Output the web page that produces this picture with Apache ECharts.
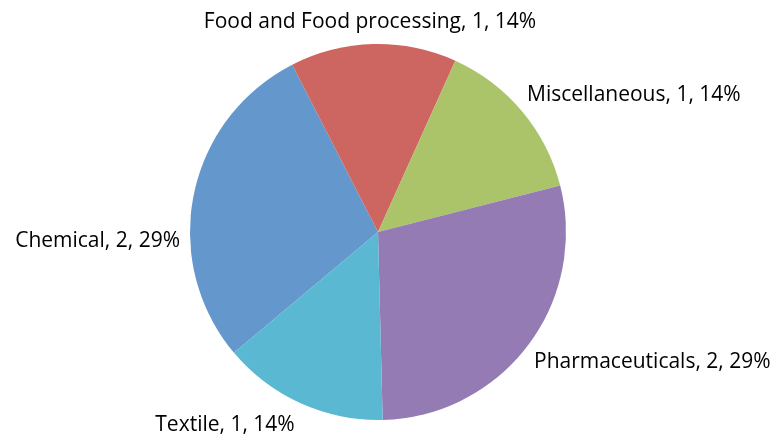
<!DOCTYPE html>
<html>
<head>
<meta charset="utf-8">
<script src="https://cdn.jsdelivr.net/npm/echarts@6/dist/echarts.min.js"></script>
<style>
    html, body { margin: 0; padding: 0; background: #fff; }
    #chart { width: 776px; height: 434px; }
</style>
</head>
<body>
<div id="chart"></div>
<script>
var categories = ['Chemical', 'Food and Food processing', 'Miscellaneous', 'Pharmaceuticals', 'Textile'];
var values = [2, 1, 1, 2, 1];
var colors = ['#6497CB', '#CD6660', '#ABC46A', '#957BB4', '#5BB8D2'];

// where the data labels sit, as in the original picture
var labelSpots = [
    { x: 180, y: 241, align: 'right' },
    { x: 370, y: 22, align: 'center' },
    { x: 527, y: 95, align: 'left' },
    { x: 534, y: 362, align: 'left' },
    { x: 225, y: 425, align: 'center' }
];

var pieData = [];
for (var i = 0; i < categories.length; i++) {
    pieData.push({ name: categories[i], value: values[i] });
}

var chart = echarts.init(document.getElementById('chart'));
chart.setOption({
    animation: false,
    color: colors,
    series: [{
        type: 'pie',
        center: [378, 232],
        radius: 188,
        startAngle: 220,
        clockwise: true,
        percentPrecision: 0,
        data: pieData,
        itemStyle: { borderWidth: 0 },
        label: {
            show: true,
            position: 'outside',
            formatter: '{b}, {c}, {d}%',
            fontFamily: 'Open Sans',
            fontSize: 21,
            color: '#000',
            overflow: 'none'
        },
        labelLine: { show: false, length: 8, length2: 0 },
        labelLayout: function (params) {
            var s = labelSpots[params.dataIndex];
            return { x: s.x, y: s.y, align: s.align, verticalAlign: 'middle' };
        }
    }]
});
</script>
</body>
</html>
